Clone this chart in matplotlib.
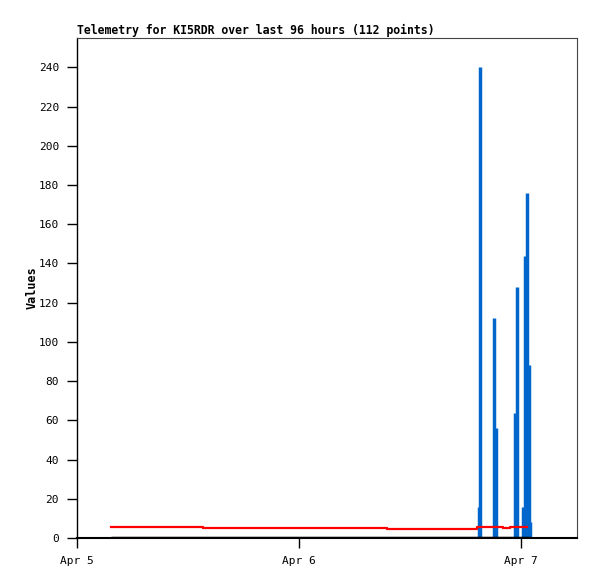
import numpy as np
import matplotlib
matplotlib.use("Agg")
import matplotlib.pyplot as plt
import matplotlib.dates as mdates
from datetime import datetime

# red series (step line)
red_times = ["2024-04-05 03:40", "2024-04-05 13:37", "2024-04-06 09:30",
             "2024-04-06 19:15", "2024-04-06 22:03", "2024-04-06 22:48",
             "2024-04-07 00:39"]
red_vals = [5.8, 5.3, 4.8, 5.8, 5.3, 5.8, 5.8]

# black series (flat at zero)
black_times = ["2024-04-05 03:40", "2024-04-07 00:58"]
black_vals = [0, 0]

# blue impulses
blue_times = ["2024-04-06 19:25", "2024-04-06 19:37", "2024-04-06 21:05",
              "2024-04-06 21:18", "2024-04-06 23:21", "2024-04-06 23:31",
              "2024-04-07 00:13", "2024-04-07 00:23", "2024-04-07 00:32",
              "2024-04-07 00:41", "2024-04-07 00:50", "2024-04-07 00:58"]
blue_vals = [16, 240, 112, 56, 64, 128, 16, 144, 112, 176, 88, 8]

fmt = "%Y-%m-%d %H:%M"
rt = [datetime.strptime(s, fmt) for s in red_times]
bt = [datetime.strptime(s, fmt) for s in black_times]
it = [datetime.strptime(s, fmt) for s in blue_times]

plt.rcParams['font.family'] = ['DejaVu Sans Mono', 'DejaVu Sans']

fig = plt.figure(figsize=(5.97, 5.79), dpi=100)
ax = fig.add_axes([77/597, 1-538/579, 500/597, 500/579])

ax.vlines(it, 0, blue_vals, color="#0066cc", lw=2.5, zorder=2)
ax.step(rt, red_vals, where="post", color="red", lw=1.6, zorder=3)
ax.plot(bt, black_vals, color="black", lw=2.5, zorder=4, solid_capstyle="butt")

ax.set_xlim(datetime(2024, 4, 5), datetime(2024, 4, 7, 6, 3))
ax.set_ylim(0, 255)
ax.set_yticks(np.arange(0, 241, 20))
ax.xaxis.set_major_locator(mdates.DayLocator())
ax.xaxis.set_major_formatter(mdates.DateFormatter("%b %-d"))
ax.tick_params(direction="out", length=7, width=1, labelsize=8, pad=6)

for s in ["top", "right"]:
    ax.spines[s].set_color("#444444")
ax.spines["left"].set_linewidth(1)
ax.spines["bottom"].set_linewidth(1.5)

ax.set_title("Telemetry for KI5RDR over last 96 hours (112 points)",
             loc="left", fontsize=8.3, fontweight="bold", pad=3)
ax.set_ylabel("Values", fontsize=8.5, fontweight="bold", labelpad=0)

fig.savefig("out.png", dpi=100)
